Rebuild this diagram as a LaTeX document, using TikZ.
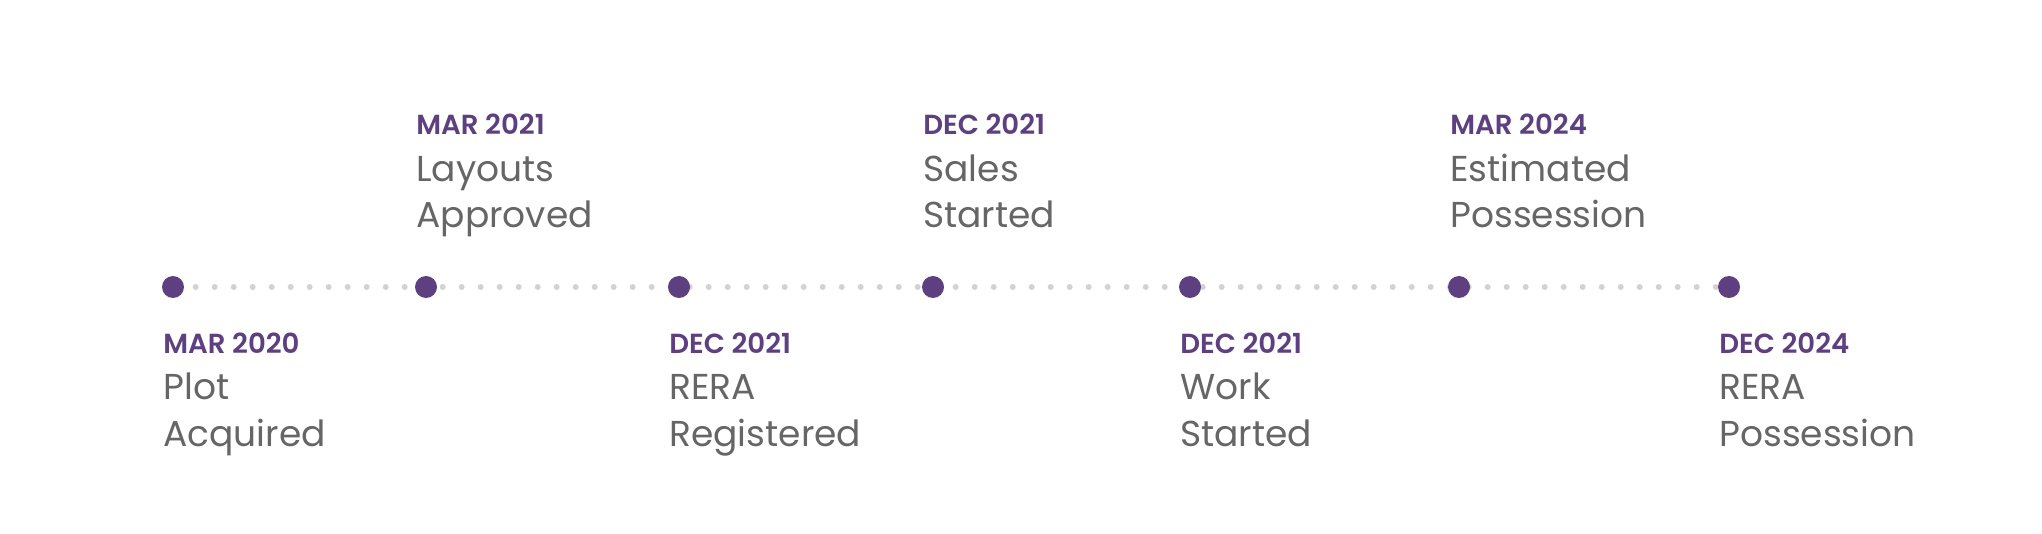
\documentclass[tikz,border=0pt]{standalone}
\usepackage{fontspec}
\setmainfont{Poppins}
\newfontfamily\datefont{Poppins SemiBold}
\definecolor{tlpurple}{HTML}{5E4080}
\definecolor{tlgray}{HTML}{666666}
\definecolor{tldot}{HTML}{D2D2D2}
\begin{document}
\begin{tikzpicture}[x=0.5pt,y=-0.5pt,
  milestone/.style={circle,fill=tlpurple,inner sep=0pt,minimum size=11pt},
  datelbl/.style={anchor=base west,inner sep=0pt,text=tlpurple,font=\datefont\fontsize{13.8pt}{16pt}\selectfont},
  desclbl/.style={anchor=base west,inner sep=0pt,text=tlgray,font=\fontsize{18pt}{22pt}\selectfont},
  track/.style={draw=tldot,line width=3pt,line cap=round,dash pattern=on 0pt off 9.5pt}]
\useasboundingbox[fill=white] (0,0) rectangle (2042,534);
\coordinate (ts) at (176.7,287);
\coordinate (te) at (1725,287);
\draw[track] (ts) -- (te);
\node[milestone] (d1) at (173,287) {};
\node[milestone] (d2) at (426,287) {};
\node[milestone] (d3) at (679,287) {};
\node[milestone] (d4) at (933,287) {};
\node[milestone] (d5) at (1190,287) {};
\node[milestone] (d6) at (1459,287) {};
\node[milestone] (d7) at (1729,287) {};
% 1
\node[datelbl] (t1) at (163,354) {MAR 2020};
\node[desclbl] (a1) at (163,400) {Plot};
\node[desclbl] (b1) at (163,446.7) {Acquired};
% 2
\node[datelbl] (t2) at (416,135) {MAR 2021};
\node[desclbl] (a2) at (416,181.7) {Layouts};
\node[desclbl] (b2) at (416,227.7) {Approved};
% 3
\node[datelbl] (t3) at (669,354) {DEC 2021};
\node[desclbl] (a3) at (669,400) {RERA};
\node[desclbl] (b3) at (669,446.7) {Registered};
% 4
\node[datelbl] (t4) at (923,135) {DEC 2021};
\node[desclbl] (a4) at (923,181.7) {Sales};
\node[desclbl] (b4) at (923,227.7) {Started};
% 5
\node[datelbl] (t5) at (1180,354) {DEC 2021};
\node[desclbl] (a5) at (1180,400) {Work};
\node[desclbl] (b5) at (1180,446.7) {Started};
% 6
\node[datelbl] (t6) at (1450,135) {MAR 2024};
\node[desclbl] (a6) at (1450,181.7) {Estimated};
\node[desclbl] (b6) at (1450,227.7) {Possession};
% 7
\node[datelbl] (t7) at (1719,354) {DEC 2024};
\node[desclbl] (a7) at (1719,400) {RERA};
\node[desclbl] (b7) at (1719,446.7) {Possession};
\end{tikzpicture}
\end{document}
